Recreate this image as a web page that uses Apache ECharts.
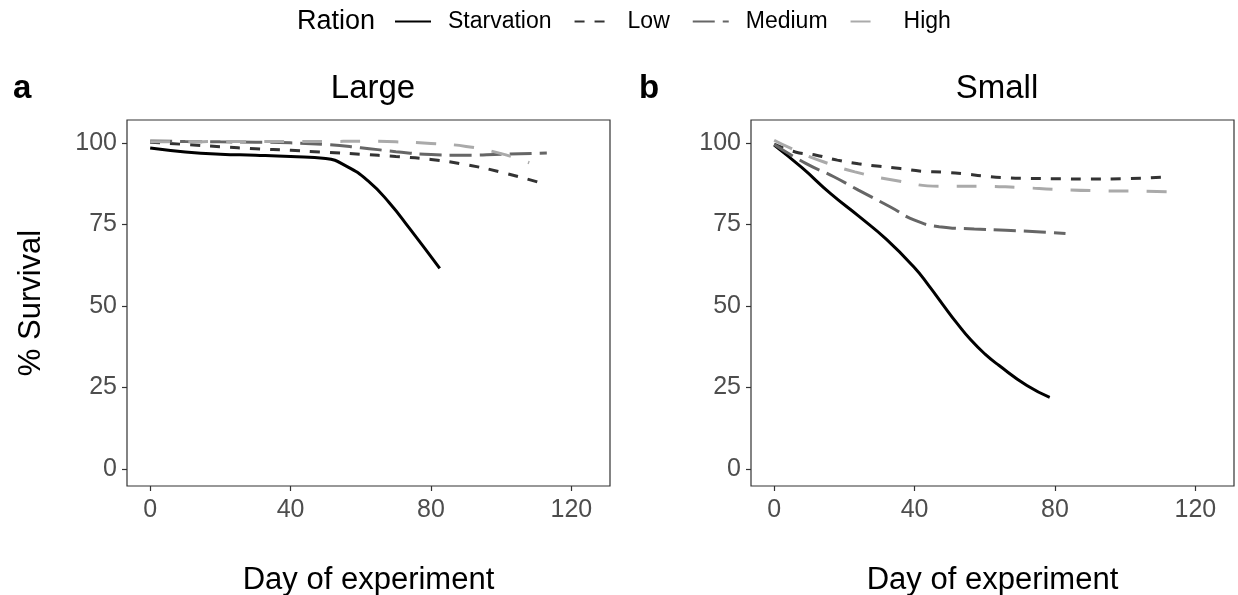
<!DOCTYPE html>
<html>
<head>
<meta charset="utf-8">
<script src="https://cdn.jsdelivr.net/npm/echarts@6/dist/echarts.min.js"></script>
<style>
  html, body { margin: 0; padding: 0; background: #fff; }
  #survival { width: 1238px; height: 595px; }
</style>
</head>
<body>
<div id="survival"></div>
<script>
// ration levels, tick labels
const rations = ['Starvation', 'Low', 'Medium', 'High']
const xTicks = [0, 40, 80, 120]
const yTicks = [0, 25, 50, 75, 100]

// panel a: Large
const starvLargeDays = [0, 10, 20, 30, 40, 50, 56, 62, 68, 74, 82.5]
const starvLargeVals = [98.4, 97.2, 96.5, 96.2, 95.8, 95.2, 92.8, 88.4, 81.8, 73.6, 61.5]
const lowLargeDays = [0, 10, 20, 30, 40, 50, 60, 70, 80, 90, 100, 111]
const lowLargeVals = [100.2, 99.5, 98.8, 98.2, 97.7, 97.1, 96.5, 95.8, 94.9, 93.3, 91.0, 87.8]
const medLargeDays = [0, 10, 20, 30, 40, 50, 60, 70, 80, 90, 100, 113]
const medLargeVals = [100.6, 100.4, 100.3, 100.2, 100.0, 99.5, 98.5, 97.3, 96.4, 96.2, 96.5, 96.9]
const highLargeDays = [0, 10, 20, 30, 40, 50, 60, 70, 80, 90, 100, 108]
const highLargeVals = [100.3, 100.3, 100.4, 100.4, 100.4, 100.4, 100.5, 100.3, 99.8, 98.9, 96.7, 93.9]

// panel b: Small
const starvSmallDays = [0, 8, 16, 24, 32, 40, 44, 48, 52, 56, 60, 64, 72, 78.5]
const starvSmallVals = [99.3, 92.3, 84.5, 77.6, 70.4, 61.7, 56.3, 50.5, 44.8, 39.6, 35.3, 31.8, 25.6, 22.0]
const lowSmallDays = [0, 6, 12, 18, 24, 30, 36, 42, 48, 54, 60, 66, 72, 80, 90, 100, 111]
const lowSmallVals = [99.6, 97.2, 96.2, 94.7, 93.6, 92.8, 92.1, 91.3, 91.0, 90.5, 89.8, 89.3, 89.1, 89.0, 88.9, 89.0, 89.5]
const medSmallDays = [0, 9, 17, 24, 33, 40, 47, 57, 66, 76, 83]
const medSmallVals = [99.5, 93.7, 89.6, 85.5, 80.4, 76.3, 74.3, 73.6, 73.2, 72.7, 72.2]
const highSmallDays = [0, 7, 14, 23, 35, 47, 58, 70, 81, 93, 104, 113]
const highSmallVals = [100.8, 97.2, 94.2, 91.1, 88.4, 86.7, 86.7, 86.3, 85.7, 85.3, 85.2, 85.0]

const font = "'Liberation Sans', Arial, sans-serif"
const styles = {
  Starvation: { color: '#000000', type: 'solid' },
  Low: { color: '#333333', type: [10, 10] },
  Medium: { color: '#666666', type: [22, 8] },
  High: { color: '#AAAAAA', type: [20, 18] }
}

const pair = (days, vals) => days.map((d, i) => [d, vals[i]])

function makeLine(name, idx, days, vals) {
  const s = styles[name]
  return {
    name: name,
    type: 'line',
    xAxisIndex: idx,
    yAxisIndex: idx,
    smooth: 0.5,
    symbol: 'none',
    color: s.color,
    lineStyle: { color: s.color, width: 3, type: s.type },
    data: pair(days, vals)
  }
}

function xAxis(idx) {
  return {
    type: 'value',
    gridIndex: idx,
    min: -6.6,
    max: 131,
    name: 'Day of experiment',
    nameLocation: 'middle',
    nameGap: 79,
    nameTextStyle: { fontSize: 31, color: '#000', fontFamily: font },
    splitLine: { show: false },
    axisLine: { show: false, onZero: false },
    axisTick: { show: true, length: 5, customValues: xTicks, lineStyle: { color: '#333', width: 1.2 } },
    axisLabel: { customValues: xTicks, fontSize: 25, color: '#4D4D4D', margin: 12, fontFamily: font }
  }
}

function yAxis(idx, withName) {
  return {
    type: 'value',
    gridIndex: idx,
    min: -5.2,
    max: 107,
    name: withName ? '% Survival' : '',
    nameLocation: 'middle',
    nameRotate: 90,
    nameGap: 80,
    nameTextStyle: { fontSize: 31, color: '#000', fontFamily: font },
    splitLine: { show: false },
    axisLine: { show: false, onZero: false },
    axisTick: { show: true, length: 5, customValues: yTicks, lineStyle: { color: '#333', width: 1.2 } },
    axisLabel: { customValues: yTicks, fontSize: 25, color: '#4D4D4D', margin: 10, fontFamily: font }
  }
}

const chart = echarts.init(document.getElementById('survival'))
chart.setOption({
  animation: false,
  backgroundColor: '#fff',
  title: [
    { text: 'Ration', left: 292, top: 3, textStyle: { fontSize: 27, fontWeight: 'normal', color: '#000', fontFamily: font } },
    { text: 'Large', left: 368, textAlign: 'center', top: 67, textStyle: { fontSize: 33, fontWeight: 'normal', color: '#000', fontFamily: font } },
    { text: 'Small', left: 992, textAlign: 'center', top: 67, textStyle: { fontSize: 33, fontWeight: 'normal', color: '#000', fontFamily: font } },
    { text: 'a', left: 8, top: 67, textStyle: { fontSize: 33, fontWeight: 'bold', color: '#000', fontFamily: font } },
    { text: 'b', left: 634, top: 67, textStyle: { fontSize: 33, fontWeight: 'bold', color: '#000', fontFamily: font } }
  ],
  legend: {
    data: rations,
    left: 389,
    top: 5,
    itemWidth: 36,
    itemHeight: 14,
    itemGap: 22,
    itemStyle: { opacity: 0 },
    textStyle: { fontSize: 23, color: '#000', fontFamily: font, padding: [0, 0, 0, 12] }
  },
  grid: [
    { left: 127, top: 120, width: 483, height: 366, outerBoundsMode: 'none', containLabel: false, show: true, borderColor: '#333', borderWidth: 1.2, backgroundColor: '#fff' },
    { left: 751, top: 120, width: 483, height: 366, outerBoundsMode: 'none', containLabel: false, show: true, borderColor: '#333', borderWidth: 1.2, backgroundColor: '#fff' }
  ],
  xAxis: [xAxis(0), xAxis(1)],
  yAxis: [yAxis(0, true), yAxis(1, false)],
  series: [
    makeLine('Starvation', 0, starvLargeDays, starvLargeVals),
    makeLine('Low', 0, lowLargeDays, lowLargeVals),
    makeLine('Medium', 0, medLargeDays, medLargeVals),
    makeLine('High', 0, highLargeDays, highLargeVals),
    makeLine('Starvation', 1, starvSmallDays, starvSmallVals),
    makeLine('Low', 1, lowSmallDays, lowSmallVals),
    makeLine('Medium', 1, medSmallDays, medSmallVals),
    makeLine('High', 1, highSmallDays, highSmallVals)
  ]
})
</script>
</body>
</html>
